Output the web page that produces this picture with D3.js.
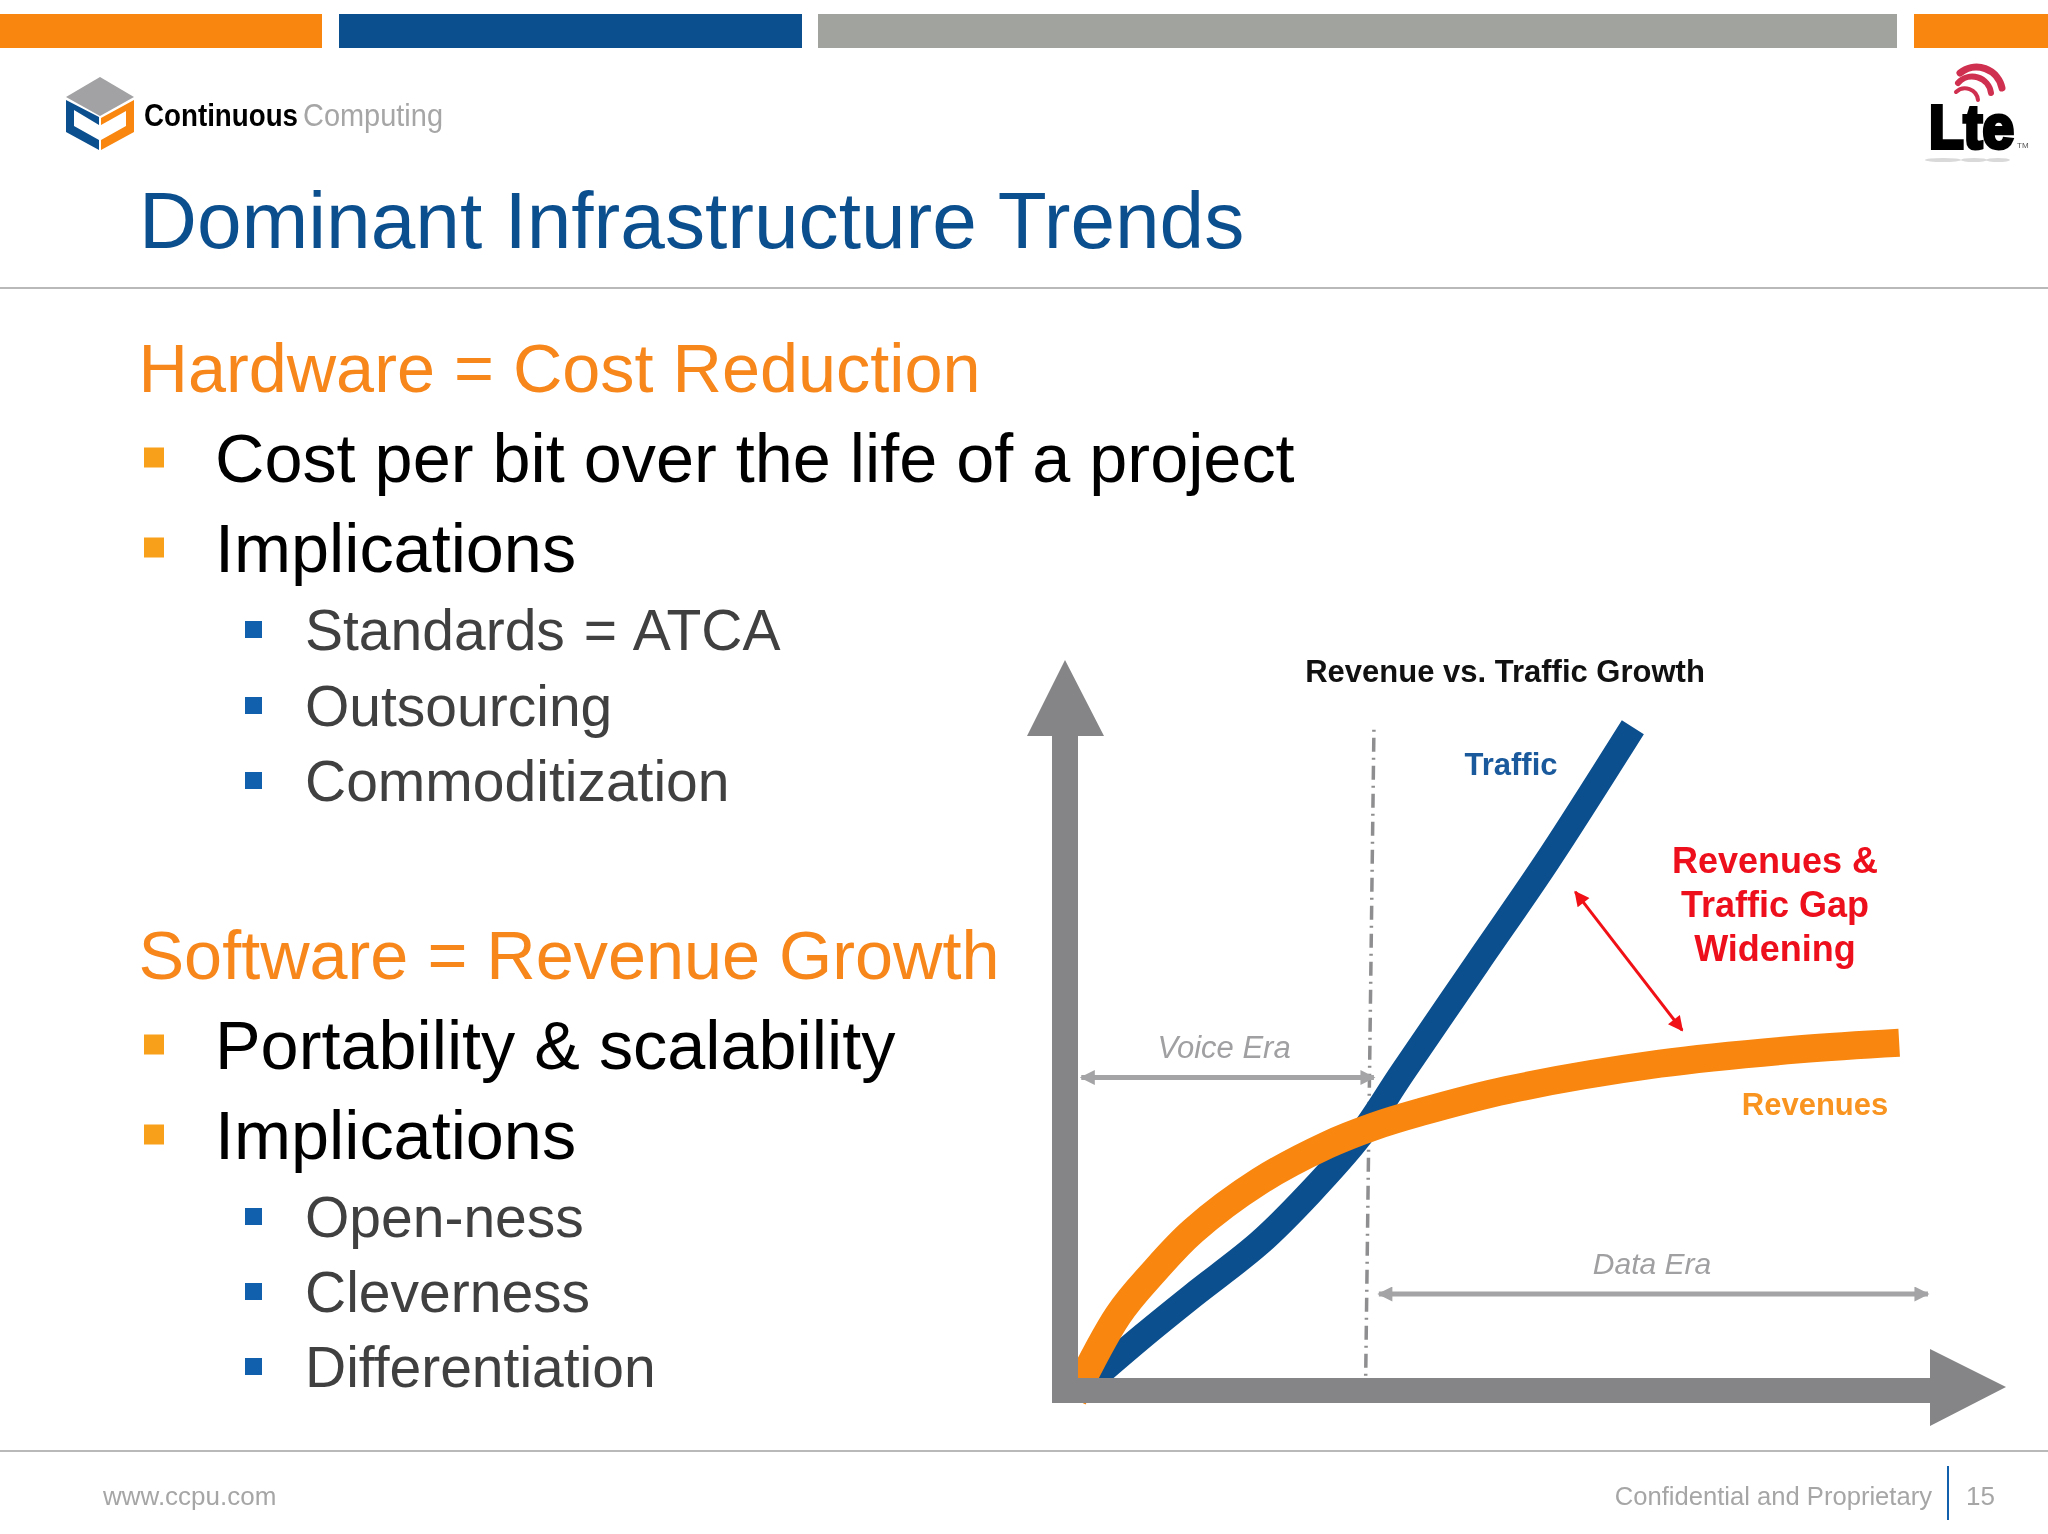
<!DOCTYPE html>
<html>
<head>
<meta charset="utf-8">
<script src="https://d3js.org/d3.v7.min.js"></script>
<style>
  html, body { margin: 0; padding: 0; background: #fff; }
  svg { display: block; filter: blur(0.4px); }
  text { font-family: "Liberation Sans", Arial, sans-serif; }
</style>
</head>
<body>
<svg id="slide" width="2048" height="1534"></svg>
<script>
// Values, both axes are unitless (0 - 100)
var trafficX = [0.9, 7.9, 14, 22.1, 28.2, 34.3, 39.5, 48.5, 57.1, 67.5];
var trafficY = [-1.4, 6.1, 12.3, 20.3, 27.9, 36.6, 46.3, 62.8, 78.5, 98.9];
var revenueX = [-0.6, 4.9, 9.1, 14, 22.1, 30.3, 35.9, 41.6, 52.2, 70.8, 87.8, 99.9];
var revenueY = [-3.4, 9.3, 15.7, 22.1, 29.7, 35.2, 38, 40.2, 43.6, 47.6, 49.8, 50.8];

// Era divider and the annotation arrows, same units
var dividerX = [36, 35];
var dividerY = [98.5, 0];
var voiceEraX = [0.4, 36];
var voiceEraY = 45.5;
var dataEraX = [36.6, 103.4];
var dataEraY = 12.5;
var gapArrowX = [60.5, 73.5];
var gapArrowY = [73.8, 52.7];

// Slide text
var slideTitle = "Dominant Infrastructure Trends";
var headings = ["Hardware = Cost Reduction", "Software = Revenue Growth"];
var mainBullets = ["Cost per bit over the life of a project", "Implications", "Portability & scalability", "Implications"];
var subBullets = ["Standards = ATCA", "Outsourcing", "Commoditization", "Open-ness", "Cleverness", "Differentiation"];
var gapLabel = ["Revenues &", "Traffic Gap", "Widening"];

var svg = d3.select("#slide");
svg.append("rect").attr("width", 2048).attr("height", 1534).attr("fill", "#fff");

var x = d3.scaleLinear().domain([0, 100]).range([1078, 1900]);
var y = d3.scaleLinear().domain([0, 100]).range([1376, 720]);

// Header bars
var bars = [[0, 322, "#f8860f"], [339, 802, "#0b4f8e"], [818, 1897, "#a1a39f"], [1914, 2048, "#f8860f"]];
svg.selectAll("rect.bar").data(bars).enter().append("rect")
  .attr("class", "bar")
  .attr("x", function(d) { return d[0]; })
  .attr("y", 14)
  .attr("width", function(d) { return d[1] - d[0]; })
  .attr("height", 34)
  .attr("fill", function(d) { return d[2]; });

// Rules
[288, 1451].forEach(function(ry) {
  svg.append("line").attr("x1", 0).attr("x2", 2048).attr("y1", ry).attr("y2", ry)
    .attr("stroke", "#b9b9b9").attr("stroke-width", 2);
});

// Company logo
svg.append("polygon").attr("points", "100,77 134,97 100,116 66,97").attr("fill", "#a2a2a4");
svg.append("polygon").attr("points", "66,100 66,132 99,150 99,140 74,126 74,110 99,125 99,117").attr("fill", "#0b4f8e");
svg.append("polygon").attr("points", "101,118 134,100 134,132 101,150 101,140 126,126 126,111 110,120 101,125").attr("fill", "#f8860f");
svg.append("text").attr("x", 144).attr("y", 126).attr("font-size", 31).attr("font-weight", "bold")
  .attr("fill", "#000").attr("textLength", 154).attr("lengthAdjust", "spacingAndGlyphs").text("Continuous");
svg.append("text").attr("x", 303).attr("y", 126).attr("font-size", 31)
  .attr("fill", "#a6a6a6").attr("textLength", 140).attr("lengthAdjust", "spacingAndGlyphs").text("Computing");

// LTE logo
["M1960,73 A26,26 0 0 1 2002,88", "M1958,83 A19,19 0 0 1 1991,93", "M1956,92 A13,13 0 0 1 1978,100"].forEach(function(p, i) {
  svg.append("path").attr("d", p).attr("fill", "none").attr("stroke", "#d0304f")
    .attr("stroke-width", [7, 6, 4][i]).attr("stroke-linecap", "round");
});
svg.append("text").attr("x", 1929).attr("y", 148).attr("font-size", 62).attr("font-weight", "bold")
  .attr("fill", "#000").attr("stroke", "#000").attr("stroke-width", 4)
  .attr("textLength", 85).attr("lengthAdjust", "spacingAndGlyphs").text("Lte");
svg.append("text").attr("x", 2017).attr("y", 148).attr("font-size", 8).attr("fill", "#555").text("TM");
[[1943, 18], [1974, 13], [1998, 12]].forEach(function(e) {
  svg.append("ellipse").attr("cx", e[0]).attr("cy", 160).attr("rx", e[1]).attr("ry", 2).attr("fill", "#d9d9d9");
});

// Title
svg.append("text").attr("x", 139).attr("y", 248).attr("font-size", 80.2).attr("fill", "#0b4f8e").text(slideTitle);

// Left column text
function addHeading(t, by) {
  svg.append("text").attr("x", 138.5).attr("y", by).attr("font-size", 68.4).attr("fill", "#f7861b").text(t);
}
function addMain(t, by) {
  svg.append("rect").attr("x", 144).attr("y", by - 34.5).attr("width", 20).attr("height", 20).attr("fill", "#f9a01b");
  svg.append("text").attr("x", 215).attr("y", by).attr("font-size", 68.4).attr("fill", "#000").text(t);
}
function addSub(t, by) {
  svg.append("rect").attr("x", 245).attr("y", by - 29).attr("width", 17).attr("height", 17).attr("fill", "#1160ad");
  svg.append("text").attr("x", 305).attr("y", by).attr("font-size", 57).attr("word-spacing", 3).attr("fill", "#404040").text(t);
}
addHeading(headings[0], 392);
addMain(mainBullets[0], 482);
addMain(mainBullets[1], 572);
addSub(subBullets[0], 650);
addSub(subBullets[1], 726);
addSub(subBullets[2], 801);
addHeading(headings[1], 979);
addMain(mainBullets[2], 1069);
addMain(mainBullets[3], 1159);
addSub(subBullets[3], 1237);
addSub(subBullets[4], 1312);
addSub(subBullets[5], 1387);

// Era divider
var line = d3.line().x(function(d) { return x(d[0]); }).y(function(d) { return y(d[1]); });
svg.append("path").attr("d", line(d3.zip(dividerX, dividerY)))
  .attr("fill", "none").attr("stroke", "#8e8e90").attr("stroke-width", 3.5).attr("stroke-dasharray", "2,6,14,6");

// Arrow heads for the annotations
function addMarker(id, color, w, h) {
  svg.append("marker").attr("id", id).attr("viewBox", "0 0 10 10").attr("refX", 9).attr("refY", 5)
    .attr("markerUnits", "userSpaceOnUse").attr("markerWidth", w).attr("markerHeight", h).attr("orient", "auto-start-reverse")
    .append("path").attr("d", "M0,0 L10,5 L0,10 Z").attr("fill", color);
}
addMarker("greyHead", "#a4a4a6", 16, 15);
addMarker("redHead", "#f01015", 17, 15);

function addArrow(xs, ys, color, marker, width) {
  svg.append("line")
    .attr("x1", x(xs[0])).attr("x2", x(xs[1])).attr("y1", y(ys[0])).attr("y2", y(ys[1]))
    .attr("stroke", color).attr("stroke-width", width)
    .attr("marker-start", "url(#" + marker + ")").attr("marker-end", "url(#" + marker + ")");
}
addArrow(voiceEraX, [voiceEraY, voiceEraY], "#a4a4a6", "greyHead", 5);
addArrow(dataEraX, [dataEraY, dataEraY], "#a4a4a6", "greyHead", 5);
addArrow(gapArrowX, gapArrowY, "#f01015", "redHead", 3);

// The two curves
var curve = d3.line().x(function(d) { return x(d[0]); }).y(function(d) { return y(d[1]); }).curve(d3.curveCatmullRom.alpha(0.5));
svg.append("path").attr("d", curve(d3.zip(trafficX, trafficY)))
  .attr("fill", "none").attr("stroke", "#0b4f8e").attr("stroke-width", 26);
svg.append("path").attr("d", curve(d3.zip(revenueX, revenueY)))
  .attr("fill", "none").attr("stroke", "#f8860f").attr("stroke-width", 28);

// Chart axes go on top so they cut the curve starts
svg.append("polygon").attr("fill", "#858587")
  .attr("points", "1065,660 1104,736 1078,736 1078,1378 1930,1378 1930,1349 2006,1387 1930,1426 1930,1403 1052,1403 1052,736 1027,736");

// Chart labels
svg.append("text").attr("x", 1505).attr("y", 682).attr("text-anchor", "middle").attr("font-size", 31).attr("font-weight", "bold").attr("fill", "#111").text("Revenue vs. Traffic Growth");
svg.append("text").attr("x", 1511).attr("y", 775).attr("text-anchor", "middle").attr("font-size", 31).attr("font-weight", "bold").attr("fill", "#1a5a9c").text("Traffic");
svg.append("text").attr("x", 1815).attr("y", 1115).attr("text-anchor", "middle").attr("font-size", 31).attr("font-weight", "bold").attr("fill", "#f8941f").text("Revenues");
svg.append("text").attr("x", 1224).attr("y", 1058).attr("text-anchor", "middle").attr("font-size", 31).attr("font-style", "italic").attr("fill", "#a0a0a2").text("Voice Era");
svg.append("text").attr("x", 1652).attr("y", 1274).attr("text-anchor", "middle").attr("font-size", 30).attr("font-style", "italic").attr("fill", "#a0a0a2").text("Data Era");
svg.selectAll("text.gap").data(gapLabel).enter().append("text")
  .attr("class", "gap")
  .attr("x", 1775)
  .attr("y", function(d, i) { return 873 + i * 44; })
  .attr("text-anchor", "middle").attr("font-size", 36).attr("font-weight", "bold").attr("fill", "#ee0f1c")
  .text(function(d) { return d; });

// Footer
svg.append("text").attr("x", 103).attr("y", 1505).attr("font-size", 26).attr("fill", "#a6a6a6").text("www.ccpu.com");
svg.append("text").attr("x", 1932).attr("y", 1505).attr("text-anchor", "end").attr("font-size", 25.6).attr("fill", "#a6a6a6").text("Confidential and Proprietary");
svg.append("line").attr("x1", 1948).attr("x2", 1948).attr("y1", 1466).attr("y2", 1520).attr("stroke", "#1160ad").attr("stroke-width", 2);
svg.append("text").attr("x", 1966).attr("y", 1505).attr("font-size", 26).attr("fill", "#a6a6a6").text("15");
</script>
</body>
</html>
